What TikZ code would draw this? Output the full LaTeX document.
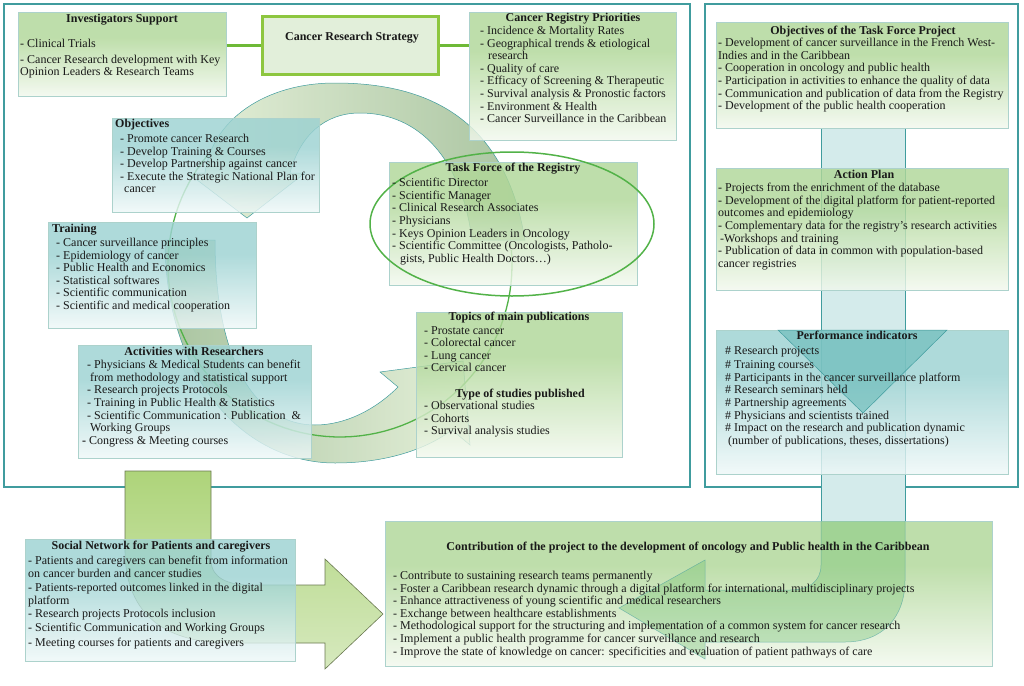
\documentclass[tikz,border=0pt]{standalone}
\usepackage{fontspec}
\setmainfont{Liberation Serif}
\usepackage{tikz}
\usetikzlibrary{shadings}

\definecolor{framecol}{RGB}{64,156,158}
\definecolor{boxgreen}{RGB}{176,215,152}
\definecolor{boxteal}{RGB}{156,210,210}
\definecolor{boxedge}{RGB}{172,210,204}
\definecolor{ink}{RGB}{25,25,25}
\definecolor{stemgreen}{RGB}{110,185,55}
\definecolor{crsedge}{RGB}{141,198,63}
\definecolor{crsfill}{RGB}{226,239,218}
\definecolor{ringgreen}{RGB}{82,178,72}
\definecolor{bandteal}{RGB}{212,235,235}
\definecolor{tipteal}{RGB}{104,186,184}
\definecolor{arrowdark}{RGB}{160,190,150}
\definecolor{arrowpale}{RGB}{226,238,213}
\definecolor{bentgreen}{RGB}{174,212,122}
\definecolor{bentpale}{RGB}{214,233,190}
\definecolor{bentedge}{RGB}{105,120,80}
\definecolor{uturn}{RGB}{110,190,110}

\pgfdeclareverticalshading{greenfade}{100bp}{color(0bp)=(white); color(18bp)=(white); color(60bp)=(boxgreen); color(100bp)=(boxgreen)}
\pgfdeclareverticalshading{tealfade}{100bp}{color(0bp)=(white); color(18bp)=(white); color(60bp)=(boxteal); color(100bp)=(boxteal)}

\newcommand{\boxfont}{\fontsize{12}{12.6}\selectfont}

\begin{document}
\begin{tikzpicture}[x=1pt, y=-1pt,
    frame/.style={draw=framecol, line width=1.2pt},
    gbox/.style={draw=boxedge, line width=0.6pt, shade, shading=greenfade,
      fill opacity=0.82, anchor=north west, inner sep=0pt},
    tbox/.style={gbox, shading=tealfade},
    head/.style={anchor=north, font=\boxfont\bfseries, text=ink, inner sep=0pt},
    lhead/.style={head, anchor=north west},
    items/.style={anchor=north west, align=left, font=\boxfont, text=ink, inner sep=0pt},
    stem/.style={draw=stemgreen, line width=2.2pt}]

    \useasboundingbox (0,0) rectangle (1024,685);

    % Two frames
    \draw[frame] (4,4) rectangle (690,487);
    \draw[frame] (705,4) rectangle (1018,487);

    % Band down the right frame
    \filldraw[fill=bandteal, draw=framecol, line width=0.6pt] (821,128) rectangle (905,521);

    % Circular arrows of the strategy
    \shadedraw[left color=arrowpale, right color=arrowdark, draw=framecol,
        line width=0.5pt, fill opacity=0.9]
      (525,240) .. controls (505,120) and (430,83) .. (335,83)
      .. controls (265,83) and (212,120) .. (205,173) -- (188,173) -- (247,218)
      -- (305,173) -- (290,173) .. controls (300,135) and (325,113) .. (360,113)
      .. controls (420,113) and (462,160) .. (472,240) -- cycle;
    \shadedraw[left color=arrowdark, right color=arrowpale, draw=framecol,
        line width=0.5pt, fill opacity=0.9]
      (165,240) .. controls (165,380) and (245,463) .. (335,463)
      .. controls (385,463) and (425,450) .. (452,430) -- (470,445) -- (463,361)
      -- (380,372) -- (398,387) .. controls (375,410) and (345,425) .. (315,425)
      .. controls (255,425) and (215,360) .. (215,240) -- cycle;
    \draw[ringgreen, line width=1.3pt] plot[domain=220:-5, samples=80]
      ({340+172*cos(\x)}, {265+172*sin(\x)});

    % Boxes of the left frame
    \node[gbox, minimum width=208pt, minimum height=84pt] (invest) at (18,12) {};
    \node[draw=crsedge, fill=crsfill, line width=3pt, minimum width=176pt,
        minimum height=58pt, anchor=north west] (crs) at (261,15) {};
    \node[gbox, minimum width=207pt, minimum height=128pt] (prio) at (469,12) {};
    \node[tbox, minimum width=207pt, minimum height=94pt] (objs) at (112,118) {};
    \node[tbox, minimum width=208pt, minimum height=106pt] (train) at (48,222) {};
    \node[tbox, minimum width=233pt, minimum height=113pt] (activ) at (78,345) {};
    \node[gbox, minimum width=248pt, minimum height=123pt] (taskf) at (389,162) {};
    \node[gbox, minimum width=206pt, minimum height=145pt] (topics) at (416,312) {};

    \draw[ringgreen, line width=1.5pt] (512,224) ellipse [x radius=142, y radius=72];

    % Boxes of the right frame
    \node[gbox, minimum width=292pt, minimum height=106pt] (tfobj) at (716,22) {};
    \node[gbox, minimum width=292pt, minimum height=122pt] (plan) at (716,168) {};
    \node[tbox, minimum width=292pt, minimum height=144pt] (perf) at (716,330) {};
    \filldraw[fill=tipteal, fill opacity=0.6, draw=framecol, line width=0.5pt]
      (778,330) -- (947,330) -- (863,413) -- cycle;

    % Bottom row
    \shadedraw[top color=bentgreen, bottom color=bentpale, draw=bentedge, line width=0.6pt]
      (125,471) -- (211,471) -- (211,560) .. controls (211,578) and (228,585) .. (250,585)
      -- (325,585) -- (325,559) -- (383,614) -- (325,669) -- (325,643) -- (230,643)
      .. controls (160,643) and (125,610) .. (125,550) -- cycle;
    \node[tbox, minimum width=270pt, minimum height=122pt] (social) at (25,539) {};
    \node[gbox, minimum width=607pt, minimum height=145pt] (contrib) at (385,521) {};
    \filldraw[fill=uturn, fill opacity=0.35, draw=framecol, draw opacity=0.6, line width=0.5pt]
      (821,521) -- (821,565) .. controls (821,582) and (808,590) .. (790,590)
      -- (705,590) -- (705,560) -- (619,608) -- (705,659) -- (705,642) -- (845,642)
      .. controls (882,642) and (905,618) .. (905,580) -- (905,521);

    % Stems of the strategy box
    \draw[stem] (invest.east |- crs.west) -- (crs.west);
    \draw[stem] (crs.east) -- (crs.east -| prio.west);

    % Texts
    \node[head] (investtitle) at (122,14) {Investigators Support};
    \node[items] (investlist) at (20,39) {- Clinical Trials\\[3pt]- Cancer Research development with Key\\Opinion Leaders \& Research Teams};

    \node[head] (crstitle) at (352,32) {Cancer Research Strategy};

    \node[head] (priotitle) at (573,13) {Cancer Registry Priorities};
    \node[items] (priolist) at (480,26) {- Incidence \& Mortality Rates\\- Geographical trends \& etiological\\\hspace*{8pt}research\\- Quality of care\\- Efficacy of Screening \& Therapeutic\\- Survival analysis \& Pronostic factors\\- Environment \& Health\\- Cancer Surveillance in the Caribbean};

    \node[lhead] (objtitle) at (115,119) {Objectives};
    \node[items] (objlist) at (120,134) {- Promote cancer Research\\- Develop Training \& Courses\\- Develop Partnership against cancer\\- Execute the Strategic National Plan for\\\hspace*{4pt}cancer};

    \node[lhead] (traintitle) at (52,224) {Training};
    \node[items] (trainlist) at (56,238) {- Cancer surveillance principles\\- Epidemiology of cancer\\- Public Health and Economics\\- Statistical softwares\\- Scientific communication\\- Scientific and medical cooperation};

    \node[head] (acttitle) at (194,347) {Activities with Researchers};
    \node[items] (actlist) at (87,360) {- Physicians \& Medical Students can benefit\\\hspace*{3pt}from methodology and statistical support\\- Research projects Protocols\\- Training in Public Health \& Statistics\\- Scientific Communication : Publication\ \ \&\\\hspace*{3pt}Working Groups\\\hspace*{-5pt}\textbf{-} Congress \& Meeting courses};

    \node[head] (tftitle) at (513,163) {Task Force of the Registry};
    \node[items] (tflist) at (392,178) {- Scientific Director\\- Scientific Manager\\- Clinical Research Associates\\- Physicians\\- Keys Opinion Leaders in Oncology\\- Scientific Committee (Oncologists, Patholo-\\\hspace*{8pt}gists, Public Health Doctors…)};

    \node[head] (toptitle) at (519,312) {Topics of main publications};
    \node[items] (toplist) at (424,326) {- Prostate cancer\\- Colorectal cancer\\- Lung cancer\\- Cervical cancer};
    \node[head] (typetitle) at (520,389) {Type of studies published};
    \node[items] (typelist) at (424,401) {- Observational studies\\- Cohorts\\- Survival analysis studies};

    \node[head] (tfotitle) at (863,26) {Objectives of the Task Force Project};
    \node[items] (tfolist) at (718,38) {- Development of cancer surveillance in the French West-\\Indies and in the Caribbean\\- Cooperation in oncology and public health\\- Participation in activities to enhance the quality of data\\- Communication and publication of data from the Registry\\- Development of the public health cooperation};

    \node[head] (plantitle) at (864,170) {Action Plan};
    \node[items] (planlist) at (718,183) {- Projects from the enrichment of the database\\- Development of the digital platform for patient-reported\\outcomes and epidemiology\\- Complementary data for the registry's research activities\\\hspace*{2pt}-Workshops and training\\- Publication of data in common with population-based\\cancer registries};

    \node[head] (perftitle) at (857,331) {Performance indicators};
    \node[items] (perflist) at (725,346) {\# Research projects\\[1.5pt]\# Training courses\\\# Participants in the cancer surveillance platform\\\# Research seminars held\\\# Partnership agreements\\\# Physicians and scientists trained\\\# Impact on the research and publication dynamic\\\hspace*{3pt}(number of publications, theses, dissertations)};

    \node[head] (soctitle) at (161,541) {Social Network for Patients and caregivers};
    \node[items] (soclist) at (28,556) {- Patients and caregivers can benefit from information\\on cancer burden and cancer studies\\[2pt]- Patients-reported outcomes linked in the digital\\platform\\- Research projects Protocols inclusion\\[2pt]- Scientific Communication and Working Groups\\[2pt]- Meeting courses for patients and caregivers};

    \node[head] (contitle) at (688,542) {Contribution of the project to the development of oncology and Public health in the Caribbean};
    \node[items] (conlist) at (393,571) {- Contribute to sustaining research teams permanently\\- Foster a Caribbean research dynamic through a digital platform for international, multidisciplinary projects\\- Enhance attractiveness of young scientific and medical researchers\\- Exchange between healthcare establishments\\- Methodological support for the structuring and implementation of a common system for cancer research\\- Implement a public health programme for cancer surveillance and research\\- Improve the state of knowledge on cancer: specificities and evaluation of patient pathways of care};
\end{tikzpicture}
\end{document}
